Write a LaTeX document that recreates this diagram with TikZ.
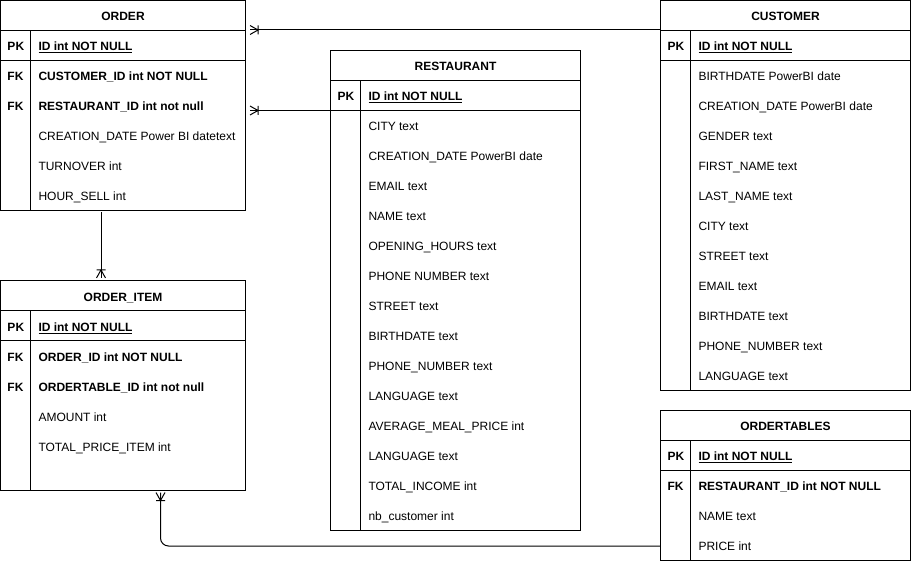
\documentclass[tikz,border=0pt]{standalone}
\usepackage{fontspec}
\setmainfont{Liberation Sans}
\usetikzlibrary{calc}
\pgfdeclarearrow{
  name = crowsfoot,
  setup code = {
    \pgfarrowssettipend{0pt}
    \pgfarrowssetlineend{0pt}
    \pgfarrowssetbackend{-9pt}
  },
  drawing code = {
    \pgfsetdash{}{0pt}
    \pgfpathmoveto{\pgfqpoint{0pt}{4.5pt}}
    \pgfpathlineto{\pgfqpoint{-8pt}{0pt}}
    \pgfpathlineto{\pgfqpoint{0pt}{-4.5pt}}
    \pgfpathmoveto{\pgfqpoint{-8pt}{4.5pt}}
    \pgfpathlineto{\pgfqpoint{-8pt}{-4.5pt}}
    \pgfusepathqstroke
  }
}
\tikzset{
  tbl/.style={draw, rectangle, anchor=north west, inner sep=0pt, outer sep=0pt},
  head/.style={font=\fontsize{12}{14}\selectfont\bfseries, inner sep=0pt, anchor=base, yshift=-1pt},
  key/.style={font=\fontsize{12}{14}\selectfont\bfseries, inner sep=0pt, anchor=base west, yshift=-1pt},
  field/.style={font=\fontsize{12}{14}\selectfont, inner sep=0pt, anchor=base west, yshift=-1pt},
  keyfield/.style={field, font=\fontsize{12}{14}\selectfont\bfseries},
  rel/.style={-{crowsfoot}, shorten >=3pt},
}

\begin{document}
\begin{tikzpicture}[x=1pt, y=-1pt, line width=1pt]
	%%%%% START %%%%%
	\useasboundingbox (0,0) rectangle (911,561);

	% ORDER
	\node[tbl, minimum width=245pt, minimum height=210pt] (order) at (0.5,0.5) {};
	\draw (0.5,30.5) -- (245.5,30.5);
	\draw (0.5,60.5) -- (245.5,60.5);
	\draw (30.5,30.5) -- (30.5,210.5);
	\node[head] (order-h) at (123,19.5) {ORDER};
	\node[key] (order-k1) at (7,49.5) {PK};
	\node[key] (order-k2) at (7,79.5) {FK};
	\node[key] (order-k3) at (7,109.5) {FK};
	\node[keyfield] (order-f1) at (38,49.5) {\underline{ID int NOT NULL}};
	\node[keyfield] (order-f2) at (38,79.5) {CUSTOMER\_ID int NOT NULL};
	\node[keyfield] (order-f3) at (38,109.5) {RESTAURANT\_ID int not null};
	\node[field] (order-f4) at (38,139.5) {CREATION\_DATE Power BI datetext};
	\node[field] (order-f5) at (38,169.5) {TURNOVER int};
	\node[field] (order-f6) at (38,199.5) {HOUR\_SELL int};

	% ORDER_ITEM
	\node[tbl, minimum width=245pt, minimum height=209.5pt] (item) at (0.5,281) {};
	\draw (0.5,311) -- (245.5,311);
	\draw (0.5,341) -- (245.5,341);
	\draw (30.5,311) -- (30.5,490.5);
	\node[head] (item-h) at (123,300.5) {ORDER\_ITEM};
	\node[key] (item-k1) at (7,330.5) {PK};
	\node[key] (item-k2) at (7,360.5) {FK};
	\node[key] (item-k3) at (7,390.5) {FK};
	\node[keyfield] (item-f1) at (38,330.5) {\underline{ID int NOT NULL}};
	\node[keyfield] (item-f2) at (38,360.5) {ORDER\_ID int NOT NULL};
	\node[keyfield] (item-f3) at (38,390.5) {ORDERTABLE\_ID int not null};
	\node[field] (item-f4) at (38,420.5) {AMOUNT int};
	\node[field] (item-f5) at (38,450.5) {TOTAL\_PRICE\_ITEM int};

	% RESTAURANT
	\node[tbl, minimum width=250pt, minimum height=480pt] (resto) at (330.5,50.5) {};
	\draw (330.5,80.5) -- (580.5,80.5);
	\draw (330.5,110.5) -- (580.5,110.5);
	\draw (360.5,80.5) -- (360.5,530.5);
	\node[head] (resto-h) at (455.5,69.5) {RESTAURANT};
	\node[key] (resto-k1) at (337,99.5) {PK};
	\node[keyfield] (resto-f1) at (368,99.5) {\underline{ID int NOT NULL}};
	\node[field] (resto-f2) at (368,129.5) {CITY text};
	\node[field] (resto-f3) at (368,159.5) {CREATION\_DATE PowerBI date};
	\node[field] (resto-f4) at (368,189.5) {EMAIL text};
	\node[field] (resto-f5) at (368,219.5) {NAME text};
	\node[field] (resto-f6) at (368,249.5) {OPENING\_HOURS text};
	\node[field] (resto-f7) at (368,279.5) {PHONE NUMBER text};
	\node[field] (resto-f8) at (368,309.5) {STREET text};
	\node[field] (resto-f9) at (368,339.5) {BIRTHDATE text};
	\node[field] (resto-f10) at (368,369.5) {PHONE\_NUMBER text};
	\node[field] (resto-f11) at (368,399.5) {LANGUAGE text};
	\node[field] (resto-f12) at (368,429.5) {AVERAGE\_MEAL\_PRICE int};
	\node[field] (resto-f13) at (368,459.5) {LANGUAGE text};
	\node[field] (resto-f14) at (368,489.5) {TOTAL\_INCOME int};
	\node[field] (resto-f15) at (368,519.5) {nb\_customer int};

	% CUSTOMER
	\node[tbl, minimum width=250pt, minimum height=390pt] (customer) at (660.5,0.5) {};
	\draw (660.5,30.5) -- (910.5,30.5);
	\draw (660.5,60.5) -- (910.5,60.5);
	\draw (690.5,30.5) -- (690.5,390.5);
	\node[head] (customer-h) at (785.5,19.5) {CUSTOMER};
	\node[key] (customer-k1) at (667,49.5) {PK};
	\node[keyfield] (customer-f1) at (698,49.5) {\underline{ID int NOT NULL}};
	\node[field] (customer-f2) at (698,79.5) {BIRTHDATE PowerBI date};
	\node[field] (customer-f3) at (698,109.5) {CREATION\_DATE PowerBI date};
	\node[field] (customer-f4) at (698,139.5) {GENDER text};
	\node[field] (customer-f5) at (698,169.5) {FIRST\_NAME text};
	\node[field] (customer-f6) at (698,199.5) {LAST\_NAME text};
	\node[field] (customer-f7) at (698,229.5) {CITY text};
	\node[field] (customer-f8) at (698,259.5) {STREET text};
	\node[field] (customer-f9) at (698,289.5) {EMAIL text};
	\node[field] (customer-f10) at (698,319.5) {BIRTHDATE text};
	\node[field] (customer-f11) at (698,349.5) {PHONE\_NUMBER text};
	\node[field] (customer-f12) at (698,379.5) {LANGUAGE text};

	% ORDERTABLES
	\node[tbl, minimum width=250pt, minimum height=150pt] (otable) at (660.5,410.5) {};
	\draw (660.5,440.5) -- (910.5,440.5);
	\draw (660.5,470.5) -- (910.5,470.5);
	\draw (690.5,440.5) -- (690.5,560.5);
	\node[head] (otable-h) at (785.5,429.5) {ORDERTABLES};
	\node[key] (otable-k1) at (667,459.5) {PK};
	\node[key] (otable-k2) at (667,489.5) {FK};
	\node[keyfield] (otable-f1) at (698,459.5) {\underline{ID int NOT NULL}};
	\node[keyfield] (otable-f2) at (698,489.5) {RESTAURANT\_ID int NOT NULL};
	\node[field] (otable-f3) at (698,519.5) {NAME text};
	\node[field] (otable-f4) at (698,549.5) {PRICE int};

	% relations
	\draw[rel, shorten >=4.5pt] (customer.west |- 0,30) -- (order.east |- 0,30);
	\draw[rel, shorten >=4.5pt] (resto.west |- 0,110.5) -- (order.east |- 0,110.5);
	\draw[rel, shorten <=2pt] (order.south -| 101,0) -- (item.north -| 101,0);
	\draw[rel, shorten >=2pt, rounded corners=8pt] (otable.west |- 0,546) -| (item.south -| 160.5,0);

	%%%%% END %%%%%
\end{tikzpicture}
\end{document}
